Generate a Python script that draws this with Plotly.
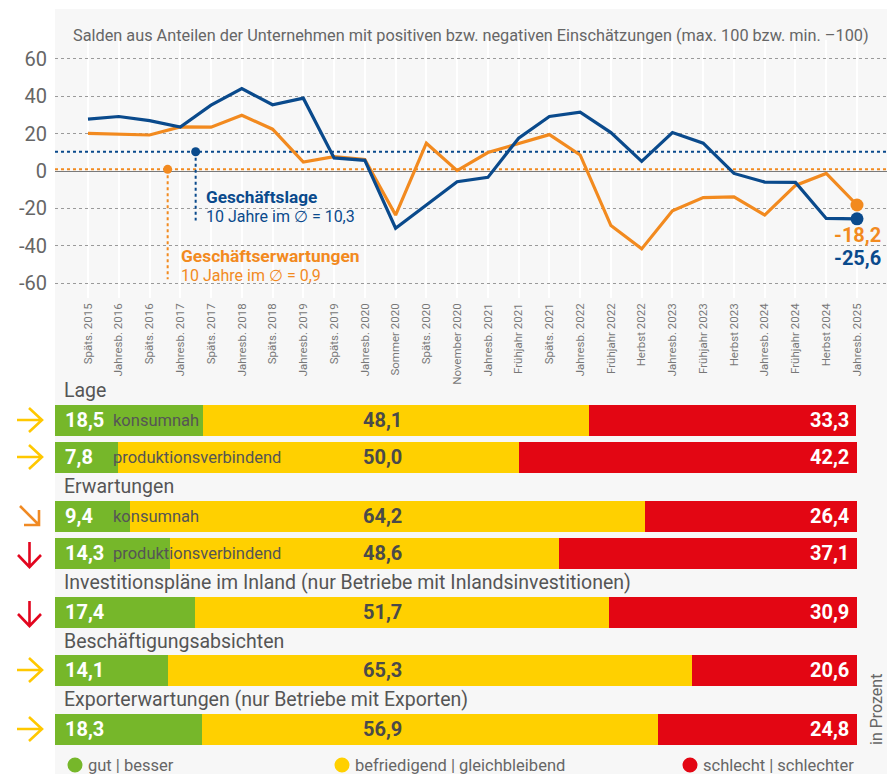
import plotly.graph_objects as go

# ---------------- data ----------------
categories = ["Späts. 2015", "Jahresb. 2016", "Späts. 2016", "Jahresb. 2017", "Späts. 2017",
              "Jahresb. 2018", "Späts. 2018", "Jahresb. 2019", "Späts. 2019", "Jahresb. 2020",
              "Sommer 2020", "Späts. 2020", "November 2020", "Jahresb. 2021", "Frühjahr 2021",
              "Späts. 2021", "Jahresb. 2022", "Frühjahr 2022", "Herbst 2022", "Jahresb. 2023",
              "Frühjahr 2023", "Herbst 2023", "Jahresb. 2024", "Frühjahr 2024", "Herbst 2024",
              "Jahresb. 2025"]
geschaeftslage = [27.8, 29.2, 27.0, 23.5, 35.3, 44.1, 35.5, 39.0, 7.0, 5.7,
                  -30.6, -18.0, -5.7, -3.4, 17.6, 29.2, 31.5, 20.6, 5.2, 20.6,
                  14.9, -1.3, -5.9, -6.1, -25.4, -25.6]
geschaeftserwartungen = [20.2, 19.7, 19.3, 23.6, 23.5, 29.9, 22.4, 4.8, 7.7, 6.1,
                         -23.6, 14.9, 0.2, 9.9, 14.5, 19.5, 8.6, -29.2, -41.7, -21.3,
                         -14.2, -13.8, -23.6, -7.7, -1.3, -18.2]
mean_lage = 10.3
mean_erw = 0.9
last_lage_label = "-25,6"
last_erw_label = "-18,2"

sections = ["Lage", "Erwartungen",
            "Investitionspläne im Inland (nur Betriebe mit Inlandsinvestitionen)",
            "Beschäftigungsabsichten",
            "Exporterwartungen (nur Betriebe mit Exporten)"]
row_labels = ["konsumnah", "produktionsverbindend", "konsumnah", "produktionsverbindend", "", "", ""]
gut = [18.5, 7.8, 9.4, 14.3, 17.4, 14.1, 18.3]
befriedigend = [48.1, 50.0, 64.2, 48.6, 51.7, 65.3, 56.9]
schlecht = [33.3, 42.2, 26.4, 37.1, 30.9, 20.6, 24.8]
trends = ["right", "right", "downright", "down", "down", "right", "right"]
legend_labels = ["gut | besser", "befriedigend | gleichbleibend", "schlecht | schlechter"]

# ---------------- style / layout ----------------
W, H = 894, 774
FONT = "Roboto"
BLUE = "#0a4a8c"
ORANGE = "#f28a1f"
GREEN = "#76b72a"
YELLOW = "#ffd000"
RED = "#e30613"
GREYTXT = "#666666"
PANEL = "#f7f7f7"

def px_x(x):
    return x / W

def px_y(y):
    return 1 - y / H

# line chart geometry
Y_TOP_PX, Y_BOT_PX = 40.3, 298.0
YR = [-68, 70]
X_LEFT_PX, X_RIGHT_PX = 55, 887
CAT0_PX, CAT_STEP = 88, 30.76
XR = [(X_LEFT_PX - CAT0_PX) / CAT_STEP, (X_RIGHT_PX - CAT0_PX) / CAT_STEP]
PX_PER_UNIT = (Y_BOT_PX - Y_TOP_PX) / (YR[1] - YR[0])

def val_to_px(v):
    return Y_TOP_PX + (YR[1] - v) * PX_PER_UNIT

# bar geometry (y2 axis in pixel units)
BAR_TOP, BAR_BOT = 387, 774
ROW_Y = [420, 457, 516, 553, 612, 670, 729]
SECTION_Y = [390, 486, 582, 641, 699]
BAR_W = 31
BAR_X0, BAR_X1 = 55, 857

fig = go.Figure()

idx = list(range(len(categories)))

# mean lines (spanning whole panel)
fig.add_trace(go.Scatter(x=XR, y=[mean_erw, mean_erw], mode="lines",
                         line=dict(color=ORANGE, width=2, dash="dot"), hoverinfo="skip"))
fig.add_trace(go.Scatter(x=XR, y=[mean_lage, mean_lage], mode="lines",
                         line=dict(color=BLUE, width=2, dash="dot"), hoverinfo="skip"))

# pointers
LAGE_PTR_X, LAGE_PTR_Y1 = 3.5, -26.5
ERW_PTR_X, ERW_PTR_Y1 = 2.59, -58
fig.add_trace(go.Scatter(x=[LAGE_PTR_X, LAGE_PTR_X], y=[mean_lage, LAGE_PTR_Y1], mode="lines",
                         line=dict(color=BLUE, width=2, dash="dot"), hoverinfo="skip"))
fig.add_trace(go.Scatter(x=[ERW_PTR_X, ERW_PTR_X], y=[mean_erw, ERW_PTR_Y1], mode="lines",
                         line=dict(color=ORANGE, width=2, dash="dot"), hoverinfo="skip"))
fig.add_trace(go.Scatter(x=[LAGE_PTR_X], y=[mean_lage], mode="markers",
                         marker=dict(color=BLUE, size=9), hoverinfo="skip"))
fig.add_trace(go.Scatter(x=[ERW_PTR_X], y=[mean_erw], mode="markers",
                         marker=dict(color=ORANGE, size=9), hoverinfo="skip"))

# data lines
fig.add_trace(go.Scatter(x=idx, y=geschaeftserwartungen, mode="lines",
                         line=dict(color=ORANGE, width=3.2), hoverinfo="skip"))
fig.add_trace(go.Scatter(x=idx, y=geschaeftslage, mode="lines",
                         line=dict(color=BLUE, width=3.2), hoverinfo="skip"))
fig.add_trace(go.Scatter(x=[idx[-1]], y=[geschaeftserwartungen[-1]], mode="markers",
                         marker=dict(color=ORANGE, size=13), hoverinfo="skip"))
fig.add_trace(go.Scatter(x=[idx[-1]], y=[geschaeftslage[-1]], mode="markers",
                         marker=dict(color=BLUE, size=13), hoverinfo="skip"))

# ---- bars ----
for vals, col in [(gut, GREEN), (befriedigend, YELLOW), (schlecht, RED)]:
    fig.add_trace(go.Bar(x=vals, y=ROW_Y, orientation="h", width=BAR_W,
                         marker=dict(color=col, line=dict(width=0)),
                         xaxis="x2", yaxis="y2", hoverinfo="skip"))

shapes = []
shapes.append(dict(type="rect", xref="paper", yref="paper", x0=px_x(55), x1=px_x(887),
                   y0=0, y1=px_y(9), fillcolor=PANEL, line=dict(width=0), layer="below"))

# legend dots
LEG_X = [75, 342, 690]
LEG_Y = 765
LEG_R = 7.5
for lx, col in zip(LEG_X, [GREEN, YELLOW, RED]):
    shapes.append(dict(type="circle", xref="paper", yref="y2",
                       x0=px_x(lx - LEG_R), x1=px_x(lx + LEG_R),
                       y0=LEG_Y - LEG_R, y1=LEG_Y + LEG_R,
                       fillcolor=col, line=dict(width=0)))

ARROW_COL = {"right": "#ffc800", "downright": "#f08a24", "down": "#e2061f"}
def arrow_path(kind, y):
    if kind == "right":
        return (f"M {px_x(17)} {y} L {px_x(42)} {y} "
                f"M {px_x(29)} {y-12} L {px_x(42)} {y} L {px_x(29)} {y+12}")
    if kind == "down":
        return (f"M {px_x(29.5)} {y-11} L {px_x(29.5)} {y+14} "
                f"M {px_x(18)} {y+2} L {px_x(29.5)} {y+14} L {px_x(41)} {y+2}")
    return (f"M {px_x(20)} {y-10} L {px_x(39)} {y+9} "
            f"M {px_x(39)} {y-6} L {px_x(39)} {y+9} L {px_x(24)} {y+9}")

for kind, y in zip(trends, ROW_Y):
    shapes.append(dict(type="path", xref="paper", yref="y2", path=arrow_path(kind, y),
                       line=dict(color=ARROW_COL[kind], width=2.6)))

ann = []
ann.append(dict(text="Salden aus Anteilen der Unternehmen mit positiven bzw. negativen Einschätzungen (max. 100 bzw. min. –100)",
                xref="paper", yref="paper", x=px_x(71), y=px_y(35), xanchor="left", yanchor="middle",
                showarrow=False, font=dict(family=FONT, size=16.3, color=GREYTXT)))

def line_ann(text, x, yv, ypx, xshift, color, size):
    return dict(text=text, xref="x", yref="y", x=x, y=yv, xanchor="left", yanchor="middle",
                xshift=xshift, yshift=-(ypx - val_to_px(yv)), showarrow=False,
                font=dict(family=FONT, size=size, color=color))

ann.append(line_ann("<b>Geschäftslage</b>", LAGE_PTR_X, mean_lage, 197, 8, BLUE, 17.2))
ann.append(line_ann("10 Jahre im ∅ = 10,3", LAGE_PTR_X, mean_lage, 217, 8, BLUE, 16))
ann.append(line_ann("<b>Geschäftserwartungen</b>", ERW_PTR_X, mean_erw, 256, 11, ORANGE, 17.4))
ann.append(line_ann("10 Jahre im ∅ = 0,9", ERW_PTR_X, mean_erw, 275, 11, ORANGE, 16))
ann.append(dict(text=f"<b>{last_erw_label}</b>", xref="x", yref="y", x=idx[-1],
                y=geschaeftserwartungen[-1], xanchor="right", yanchor="middle", xshift=26,
                yshift=-(235 - val_to_px(geschaeftserwartungen[-1])),
                showarrow=False, font=dict(family=FONT, size=20, color=ORANGE)))
ann.append(dict(text=f"<b>{last_lage_label}</b>", xref="x", yref="y", x=idx[-1],
                y=geschaeftslage[-1], xanchor="right", yanchor="middle", xshift=26,
                yshift=-(258 - val_to_px(geschaeftslage[-1])),
                showarrow=False, font=dict(family=FONT, size=20, color=BLUE)))

for s, y in zip(sections, SECTION_Y):
    ann.append(dict(text=s, xref="paper", yref="y2", x=px_x(62), y=y, xanchor="left",
                    yanchor="middle", showarrow=False,
                    font=dict(family=FONT, size=19.5, color="#555555")))

def fmt(v):
    return f"{v:.1f}".replace(".", ",")

for i, y in enumerate(ROW_Y):
    ann.append(dict(text=f"<b>{fmt(gut[i])}</b>", xref="x2", yref="y2", x=0, y=y, xanchor="left",
                    yanchor="middle", xshift=8, showarrow=False,
                    font=dict(family=FONT, size=20, color="white")))
    if row_labels[i]:
        ann.append(dict(text=row_labels[i], xref="paper", yref="y2", x=px_x(111), y=y,
                        xanchor="left", yanchor="middle", showarrow=False,
                        font=dict(family=FONT, size=16.5, color="#555555")))
    ann.append(dict(text=f"<b>{fmt(befriedigend[i])}</b>", xref="paper", yref="y2", x=px_x(361), y=y,
                    xanchor="left", yanchor="middle", showarrow=False,
                    font=dict(family=FONT, size=20, color="#4a4a4a")))
    ann.append(dict(text=f"<b>{fmt(schlecht[i])}</b>", xref="x2", yref="y2", x=100, y=y,
                    xanchor="right", yanchor="middle", xshift=-6, showarrow=False,
                    font=dict(family=FONT, size=20, color="white")))

for lab, lx in zip(legend_labels, LEG_X):
    ann.append(dict(text=lab, xref="paper", yref="y2", x=px_x(lx + 11), y=LEG_Y, xanchor="left",
                    yanchor="middle", showarrow=False,
                    font=dict(family=FONT, size=16.5, color=GREYTXT)))

ann.append(dict(text="in Prozent", xref="paper", yref="y2", x=px_x(876), y=710, textangle=-90,
                xanchor="center", yanchor="middle", showarrow=False,
                font=dict(family=FONT, size=16, color=GREYTXT)))

yticks = [60, 40, 20, 0, -20, -40, -60]
fig.update_layout(
    width=W, height=H, margin=dict(l=0, r=0, t=0, b=0),
    paper_bgcolor="white", plot_bgcolor="rgba(0,0,0,0)",
    showlegend=False, barmode="stack", bargap=0,
    font=dict(family=FONT, color=GREYTXT),
    xaxis=dict(domain=[px_x(X_LEFT_PX), px_x(X_RIGHT_PX)], range=XR,
               tickvals=idx, ticktext=categories,
               showgrid=True, gridcolor="white", gridwidth=1.5, zeroline=False,
               showline=False, ticks="", tickangle=-90, ticklabelstandoff=2,
               tickfont=dict(family=FONT, size=11.5, color="#777777"), anchor="y"),
    yaxis=dict(domain=[px_y(Y_BOT_PX), px_y(Y_TOP_PX)], range=YR, anchor="x",
               tickvals=yticks, ticktext=[str(v) for v in yticks],
               showgrid=True, gridcolor="#9a9a9a", griddash="dot", gridwidth=1,
               zeroline=True, zerolinecolor="#7a7a7a", zerolinewidth=1.3,
               showline=False, ticks="", ticklabelstandoff=7,
               tickfont=dict(family=FONT, size=20, color="#666666")),
    xaxis2=dict(domain=[px_x(BAR_X0), px_x(BAR_X1)], range=[0, 100], anchor="y2",
                visible=False, fixedrange=True),
    yaxis2=dict(domain=[0, px_y(BAR_TOP)], range=[BAR_BOT, BAR_TOP], anchor="x2",
                visible=False, fixedrange=True),
    shapes=shapes, annotations=ann,
)

fig.write_html("out.html", post_script="document.body.style.margin='0px';",
               config={"displayModeBar": False})
